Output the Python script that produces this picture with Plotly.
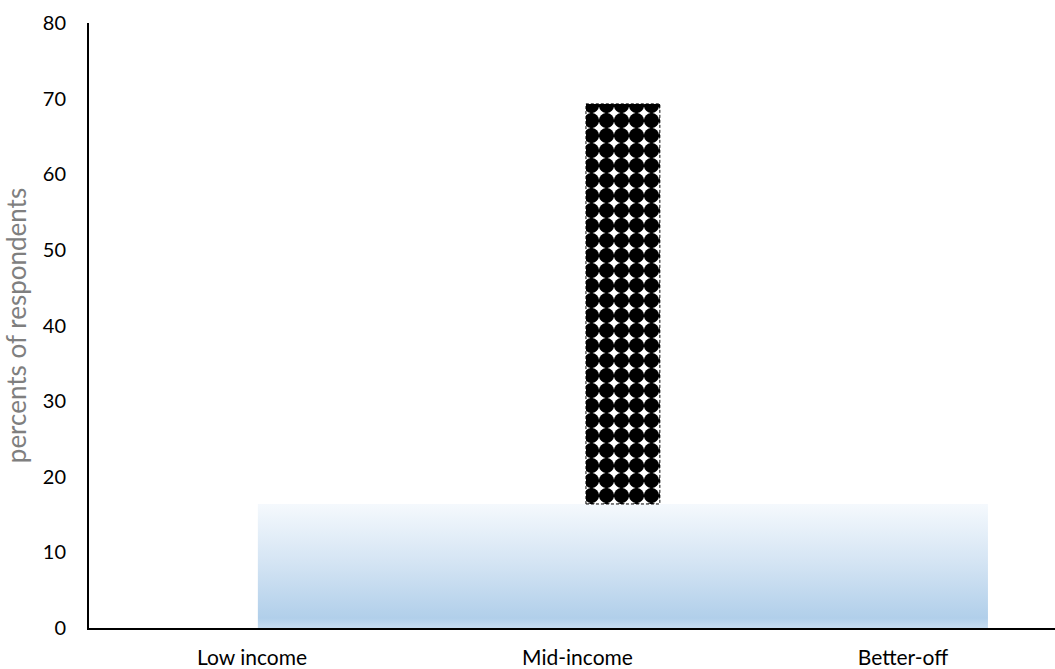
import plotly.graph_objects as go

# Data
categories = ["Low income", "Mid-income", "Better-off"]
band_value = 16.4            # shaded baseline level, percent
bar_top = [None, 69.3, None]  # top of the patterned bar, percent
y_ticks = [0, 10, 20, 30, 40, 50, 60, 70, 80]

# Layout geometry on the category axis (category i sits at x = i)
band_left, band_right = 0.018, 2.261
bar_offset, bar_width = 0.026, 0.227

fig = go.Figure()

# Gradient-filled baseline band
fig.add_trace(go.Scatter(
    x=[band_left, band_right, band_right, band_left, band_left],
    y=[0, 0, band_value, band_value, 0],
    mode="lines", line=dict(width=0), fill="toself",
    fillgradient=dict(
        type="vertical", start=0, stop=band_value,
        colorscale=[[0, "#c6dcf0"], [0.08, "#b1cfea"], [0.5, "#d2e3f3"], [1, "#f5f9fd"]],
    ),
    hoverinfo="skip", showlegend=False,
))

# Patterned bar resting on the band
xs, heights = [], []
for i, top in enumerate(bar_top):
    if top is not None:
        xs.append(i)
        heights.append(top - band_value)
fig.add_trace(go.Bar(
    x=xs, y=heights, base=[band_value] * len(xs),
    offset=bar_offset, width=bar_width,
    marker=dict(
        color="white",
        line=dict(width=0),
        pattern=dict(shape=".", fgcolor="black", bgcolor="white", fgopacity=1,
                     size=15, solidity=0.79),
    ),
    showlegend=False,
))

# Dashed outline of the patterned bar
for x, h in zip(xs, heights):
    x0 = x + bar_offset
    x1 = x0 + bar_width
    fig.add_trace(go.Scatter(
        x=[x0, x1, x1, x0, x0],
        y=[band_value, band_value, band_value + h, band_value + h, band_value],
        mode="lines", line=dict(color="black", width=1, dash="3px,2px"),
        hoverinfo="skip", showlegend=False,
    ))

font_family = "Lato, 'Open Sans', sans-serif"

fig.update_layout(
    width=1055, height=669,
    margin=dict(l=89, r=0, t=23, b=41),
    plot_bgcolor="white", paper_bgcolor="white",
    font=dict(family=font_family, color="black"),
    xaxis=dict(
        range=[-0.5008, 2.467],
        tickvals=list(range(len(categories))), ticktext=categories,
        showgrid=False, zeroline=False,
        showline=True, linecolor="black", linewidth=2,
        ticks="", tickfont=dict(size=21), ticklabelstandoff=10,
    ),
    yaxis=dict(
        range=[0, 80], tickvals=y_ticks,
        showgrid=False, zeroline=False,
        showline=True, linecolor="black", linewidth=2,
        ticks="", tickfont=dict(size=20), ticklabelstandoff=17,
        title=dict(text="percents of respondents", font=dict(size=26, color="#7f7f7f"), standoff=14),
    ),
    bargap=0,
)

fig.write_html("out.html")
